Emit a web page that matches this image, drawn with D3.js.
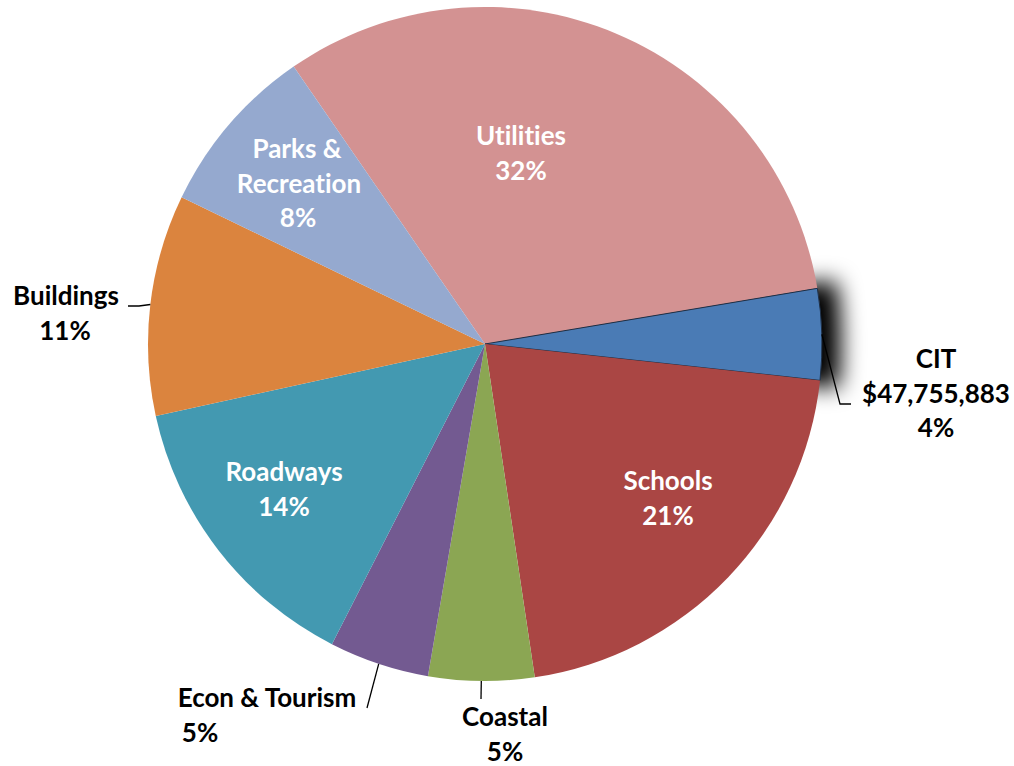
<!DOCTYPE html>
<html>
<head>
<meta charset="utf-8">
<script src="https://cdn.jsdelivr.net/npm/d3@7"></script>
<style>
  html, body { margin: 0; padding: 0; background: #ffffff; }
  svg { display: block; }
  text { font-family: Lato, "Open Sans", "DejaVu Sans", sans-serif; font-weight: 700; font-variant-ligatures: none; }
</style>
</head>
<body>
<svg id="chart" width="1014" height="766"></svg>
<script>
// Capital program budget by category (dollars), clockwise order
const categories = ["Utilities", "CIT", "Schools", "Coastal", "Econ & Tourism", "Roadways", "Buildings", "Parks & Recreation"];
const amounts = [350000000, 47755883, 229000000, 55500000, 52500000, 154000000, 116000000, 90000000];
const colors = ["#D39292", "#4A7BB5", "#AA4644", "#8BA653", "#735A91", "#4399B1", "#DB843E", "#95A9CF"];

// label text lines: category lines, then percent appended
const labelLines = [["Utilities"], ["CIT", "$47,755,883"], ["Schools"], ["Coastal"], ["Econ & Tourism"], ["Roadways"], ["Buildings"], ["Parks &", "Recreation"]];
const insideLabel = [true, false, true, false, false, true, false, true];

// label placement (pixels from pie centre): x of each line, first baseline, line step
const labelX = [[36, 36], [451, 451, 451], [183, 183], [20, 20], [-218, -285], [-201, -201], [-419, -420], [-188, -186, -187]];
const labelY0 = [-199, 24, 146, 382, 363, 137, -39, -186];
// leader elbows for outside labels (pixels from centre)
const leaderPts = {
  "CIT": [[355, 60], [366, 60]],
  "Coastal": [[-4, 355]],
  "Econ & Tourism": [[-118, 364]],
  "Buildings": [[-346, -38], [-357, -38]]
};

const W = 1014, H = 766;
const cx = 485, cy = 344, R = 337;
const lineStep = 34.5;
const startAngle = -34.6 * Math.PI / 180;

const svg = d3.select("#chart");
const defs = svg.append("defs");
const shadow = defs.append("filter").attr("id", "sliceShadow")
  .attr("filterUnits", "userSpaceOnUse")
  .attr("x", -100).attr("y", -200).attr("width", 520).attr("height", 400);
shadow.append("feMorphology").attr("operator", "dilate").attr("radius", 7).attr("result", "grown");
shadow.append("feGaussianBlur").attr("in", "grown").attr("stdDeviation", 11);

const g = svg.append("g").attr("transform", `translate(${cx},${cy})`);

const data = categories.map((c, i) => ({ cat: c, value: amounts[i], i }));
const total = d3.sum(amounts);
const pie = d3.pie().value(d => d.value).sort(null)
  .startAngle(startAngle).endAngle(startAngle + 2 * Math.PI);
const arcs = pie(data);
const arc = d3.arc().innerRadius(0).outerRadius(R);

// soft shadow behind the CIT slice
const cit = arcs.find(a => a.data.cat === "CIT");
g.append("path")
  .attr("d", arc(cit))
  .attr("transform", "translate(12,0)")
  .attr("fill", "#000")
  .attr("filter", "url(#sliceShadow)");

g.selectAll("path.slice")
  .data(arcs)
  .join("path")
  .attr("class", "slice")
  .attr("d", arc)
  .attr("fill", d => colors[d.data.i])
  .attr("stroke", d => d.data.cat === "CIT" ? "#1f2f45" : "none")
  .attr("stroke-width", d => d.data.cat === "CIT" ? 1 : 0);

// leader lines from slice edge midpoint to the label
arcs.forEach(a => {
  const pts = leaderPts[a.data.cat];
  if (!pts) return;
  const mid = (a.startAngle + a.endAngle) / 2;
  const start = [R * Math.sin(mid), -R * Math.cos(mid)];
  g.append("path")
    .attr("d", d3.line()([start, ...pts]))
    .attr("fill", "none")
    .attr("stroke", "#000")
    .attr("stroke-width", 1.3);
});

// labels
arcs.forEach(a => {
  const i = a.data.i;
  const pct = Math.round(a.data.value / total * 100) + "%";
  const lines = labelLines[i].concat([pct]);
  const t = g.append("text")
    .attr("text-anchor", "middle")
    .attr("font-size", 26)
    .attr("fill", insideLabel[i] ? "#ffffff" : "#000000");
  lines.forEach((ln, k) => {
    t.append("tspan")
      .attr("x", labelX[i][k])
      .attr("y", labelY0[i] + k * lineStep)
      .text(ln);
  });
});
</script>
</body>
</html>
